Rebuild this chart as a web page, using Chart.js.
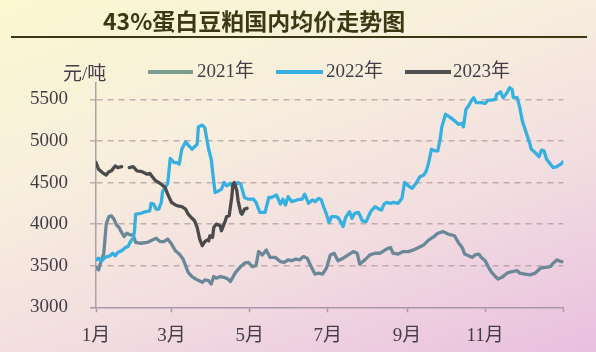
<!DOCTYPE html>
<html>
<head>
<meta charset="utf-8">
<script src="https://cdn.jsdelivr.net/npm/chart.js@4.4.1/dist/chart.umd.min.js"></script>
<style>
  html, body { margin: 0; padding: 0; }
  body {
    width: 596px; height: 352px; position: relative; overflow: hidden;
    background: linear-gradient(160deg, #fcf8d0 0%, #f8eedd 35%, #f2dde0 65%, #e9bfe0 100%);
  }
  #chart { position: absolute; left: 0; top: 0; }
  .title {
    position: absolute; left: 103px; top: 3px;
    font: bold 23px 'Noto Sans CJK SC', sans-serif; color: #3b3812; white-space: nowrap;
  }
  .rule { position: absolute; left: 11px; top: 36px; width: 576px; height: 2px; background: #3a3814; }
  .unit, .leg-text {
    position: absolute; font: 19px 'Liberation Serif', 'Noto Sans CJK SC', serif;
    color: #433d48; white-space: nowrap; line-height: 20px;
  }
  .leg-line { position: absolute; height: 4px; }
</style>
</head>
<body>
<canvas id="chart" width="596" height="352"></canvas>
<div class="title">43%蛋白豆粕国内均价走势图</div>
<div class="rule"></div>
<div class="unit" style="left:63px; top:64px;">元/吨</div>
<div class="leg-line" style="left:148px; top:70px; width:45px; background:#7a9b8e;"></div>
<div class="leg-text" style="left:197px; top:61px;">2021年</div>
<div class="leg-line" style="left:276px; top:70px; width:47px; background:#35b0e0;"></div>
<div class="leg-text" style="left:326px; top:61px;">2022年</div>
<div class="leg-line" style="left:405px; top:70px; width:46px; background:#505050;"></div>
<div class="leg-text" style="left:453px; top:61px;">2023年</div>
<script>
// day of year (0 = 1 Jan) and price
const days2021 = [0, 2, 4, 6, 8, 10, 12, 14, 16, 18, 20, 22, 24, 27, 29, 31, 35, 40, 44, 47, 50, 53, 56, 59, 62, 65, 68, 70, 72, 75, 79, 83, 85, 88, 90, 92, 94, 97, 100, 103, 105, 109, 113, 116, 119, 122, 125, 127, 130, 133, 136, 140, 144, 147, 150, 153, 156, 159, 162, 165, 168, 171, 174, 177, 180, 183, 186, 189, 193, 197, 201, 204, 206, 210, 214, 218, 222, 225, 227, 230, 232, 236, 240, 244, 248, 252, 256, 260, 264, 267, 271, 275, 280, 283, 286, 288, 291, 294, 296, 299, 301, 304, 307, 309, 312, 314, 317, 321, 325, 329, 331, 335, 339, 343, 347, 351, 355, 357, 360, 363, 365];
const price2021 = [3480, 3450, 3560, 3640, 4000, 4090, 4100, 4060, 3990, 3960, 3900, 3850, 3890, 3870, 3870, 3780, 3770, 3780, 3810, 3830, 3790, 3790, 3820, 3760, 3680, 3640, 3580, 3500, 3420, 3370, 3330, 3300, 3330, 3320, 3280, 3370, 3350, 3370, 3360, 3340, 3310, 3420, 3490, 3530, 3540, 3490, 3500, 3670, 3630, 3690, 3600, 3600, 3550, 3540, 3570, 3560, 3580, 3570, 3610, 3590, 3490, 3400, 3410, 3400, 3470, 3630, 3650, 3560, 3590, 3630, 3670, 3650, 3520, 3570, 3630, 3650, 3650, 3680, 3700, 3720, 3650, 3640, 3670, 3670, 3690, 3720, 3750, 3810, 3850, 3890, 3910, 3880, 3860, 3780, 3720, 3640, 3620, 3600, 3630, 3640, 3600, 3560, 3470, 3420, 3370, 3340, 3360, 3410, 3430, 3440, 3410, 3400, 3390, 3410, 3470, 3480, 3490, 3530, 3570, 3550, 3550];

const days2022 = [0, 2, 4, 7, 11, 13, 15, 17, 20, 23, 25, 27, 29, 30, 31, 35, 39, 42, 43, 45, 47, 49, 51, 52, 56, 58, 61, 63, 65, 67, 70, 72, 75, 77, 79, 80, 83, 85, 86, 88, 90, 91, 93, 96, 98, 100, 102, 105, 107, 111, 113, 116, 119, 123, 125, 128, 132, 135, 137, 141, 144, 146, 148, 150, 153, 157, 161, 163, 166, 169, 171, 174, 176, 178, 180, 182, 184, 187, 189, 191, 193, 195, 198, 200, 202, 205, 206, 208, 211, 213, 215, 218, 221, 223, 225, 227, 230, 232, 236, 239, 241, 244, 247, 250, 253, 256, 258, 260, 262, 265, 267, 269, 270, 273, 277, 281, 283, 286, 287, 289, 291, 293, 295, 297, 301, 304, 306, 309, 312, 313, 316, 318, 321, 323, 325, 326, 329, 331, 333, 336, 339, 340, 343, 346, 348, 350, 352, 355, 357, 360, 363, 365];
const price2022 = [3570, 3590, 3550, 3600, 3620, 3650, 3620, 3660, 3680, 3720, 3730, 3790, 3830, 3910, 4120, 4130, 4150, 4160, 4250, 4240, 4180, 4180, 4260, 4390, 4490, 4790, 4740, 4740, 4720, 4900, 4990, 4950, 4900, 4930, 4960, 5170, 5190, 5160, 5070, 4900, 4780, 4640, 4380, 4400, 4420, 4500, 4460, 4490, 4440, 4500, 4480, 4320, 4300, 4300, 4260, 4140, 4140, 4320, 4320, 4350, 4240, 4300, 4230, 4330, 4270, 4290, 4300, 4360, 4250, 4290, 4270, 4310, 4290, 4200, 4120, 4020, 4090, 4090, 4080, 4030, 3970, 4080, 4150, 4070, 4130, 4140, 4110, 4040, 4030, 4100, 4160, 4210, 4180, 4170, 4240, 4260, 4250, 4260, 4250, 4310, 4500, 4460, 4430, 4490, 4570, 4590, 4640, 4750, 4900, 4880, 4880, 5040, 5160, 5320, 5280, 5230, 5200, 5210, 5170, 5380, 5420, 5480, 5520, 5460, 5460, 5450, 5490, 5490, 5500, 5560, 5590, 5520, 5580, 5640, 5620, 5520, 5520, 5400, 5240, 5100, 4960, 4900, 4860, 4810, 4890, 4880, 4780, 4720, 4680, 4690, 4720, 4750];

// null = no quotes over the Spring Festival break
const days2023 = [0, 2, 5, 8, 10, 12, 15, 17, 20, 23, 26, 29, 32, 36, 40, 42, 44, 46, 49, 51, 54, 56, 59, 62, 64, 67, 70, 72, 75, 77, 79, 81, 83, 85, 87, 88, 89, 91, 92, 94, 97, 98, 100, 101, 102, 104, 106, 107, 108, 110, 111, 113, 114, 116, 118];
const price2023 = [4740, 4660, 4620, 4590, 4630, 4640, 4700, 4680, 4690, null, 4680, 4690, 4640, 4630, 4600, 4610, 4570, 4530, 4500, 4480, 4440, 4360, 4260, 4230, 4220, 4210, 4180, 4120, 4070, 4040, 3960, 3820, 3740, 3790, 3810, 3800, 3860, 3840, 3960, 4000, 3980, 3920, 4000, 4040, 4090, 4100, 4320, 4480, 4500, 4400, 4280, 4140, 4120, 4180, 4190];

const monthTickDays = [0, 59, 120, 181, 243, 304, 365];
const monthTickLabels = ['1月', '3月', '5月', '7月', '9月', '11月', ''];
const yTickValues = [3000, 3500, 4000, 4500, 5000, 5500];

const toPoints = (days, prices) => days.map((d, i) => ({ x: d, y: prices[i] }));

const TICK_FONT = { family: "'Liberation Serif', 'Noto Sans CJK SC', serif", size: 19 };
const GRID_COLOR = 'rgba(180, 158, 162, 0.8)';
const AXIS_COLOR = '#a898a8';

function series(label, days, prices, color, order) {
  return {
    label,
    data: toPoints(days, prices),
    borderColor: color,
    borderWidth: 3.3,
    pointRadius: 0,
    tension: 0,
    spanGaps: false,
    borderJoinStyle: 'round',
    borderCapStyle: 'round',
    order,
  };
}

// bottom grid line is the x axis itself, so hide it there
const yGridColors = yTickValues.map((v) => (v === 3000 ? 'rgba(0,0,0,0)' : GRID_COLOR));
const yTickColors = yTickValues.map((v) => (v === 3000 ? AXIS_COLOR : GRID_COLOR));

new Chart(document.getElementById('chart'), {
  type: 'line',
  data: {
    datasets: [
      series('2021年', days2021, price2021, '#6a8897', 2),
      series('2022年', days2022, price2022, '#35b0e0', 1),
      series('2023年', days2023, price2023, '#4b4b4b', 0),
    ],
  },
  options: {
    responsive: false,
    animation: false,
    layout: { padding: { top: 82.7, right: 32.7, left: 0, bottom: 0 } },
    plugins: { legend: { display: false }, tooltip: { enabled: false } },
    scales: {
      x: {
        type: 'linear',
        min: 0,
        max: 365,
        afterFit: (s) => { s.height = 44.7; },
        afterBuildTicks: (s) => { s.ticks = monthTickDays.map((v) => ({ value: v })); },
        ticks: {
          font: TICK_FONT,
          color: '#433d48',
          padding: 12,
          maxRotation: 0,
          autoSkip: false,
          callback: (v, i) => monthTickLabels[i],
        },
        grid: { drawOnChartArea: false, drawTicks: true, tickLength: 5, tickColor: AXIS_COLOR, tickWidth: 1.5 },
        border: { display: true, color: AXIS_COLOR, width: 1.5 },
      },
      y: {
        min: 3000,
        max: 5700,
        afterFit: (s) => { s.width = 96; },
        afterBuildTicks: (s) => { s.ticks = yTickValues.map((v) => ({ value: v })); },
        ticks: { font: TICK_FONT, color: '#433d48', padding: 22, callback: (v) => String(v) },
        grid: {
          display: true,
          drawOnChartArea: true,
          color: yGridColors,
          tickColor: yTickColors,
          lineWidth: 1.5,
          tickLength: 6,
          tickBorderDash: [],
        },
        border: { display: true, color: '#a8a4a8', width: 1.5, dash: [6, 5] },
      },
    },
  },
});
</script>
</body>
</html>
